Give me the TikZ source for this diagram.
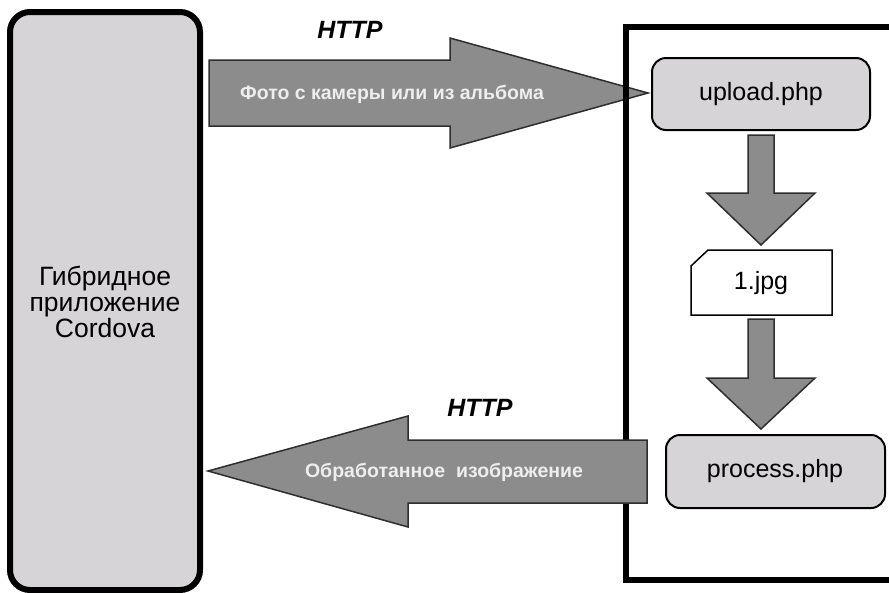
\documentclass[tikz,border=0pt]{standalone}
\usepackage{fontspec}
\setmainfont{Liberation Sans}
\usetikzlibrary{positioning}
\definecolor{boxgray}{HTML}{D6D4D6}
\definecolor{arrgray}{HTML}{8C8C8C}
\definecolor{arredge}{HTML}{2E2E2E}
\definecolor{arrtext}{HTML}{EEEEEE}
\tikzset{
  appbox/.style={draw=black, line width=6pt, fill=boxgray, rounded corners=20pt},
  filebox/.style={draw=black, line width=2pt, fill=boxgray, rounded corners=14pt},
  bigarrow/.style={draw=arredge, line width=1.5pt, fill=arrgray, line join=miter},
  httplabel/.style={font=\fontsize{25}{25}\selectfont\bfseries\itshape},
  arrlabel/.style={text=arrtext, font=\fontsize{19.5}{21}\selectfont\bfseries},
  proclabel/.style={font=\fontsize{25}{27}\selectfont},
}
\begin{document}
\begin{tikzpicture}[x=1pt,y=-1pt]
\useasboundingbox (0,0) rectangle (889,592);
% left app
\draw[appbox] (10,12) rectangle (200,590);
\node[align=center, font=\fontsize{26.5}{26}\selectfont] (app) at (105,302) {Гибридное\\приложение\\Cordova};
% top arrow (under server frame)
\draw[bigarrow] (209,60) -- (450,60) -- (450,38) -- (648,93) -- (450,148) -- (450,126) -- (209,126) -- cycle;
\node[arrlabel] (upl) at (392,94) {Фото с камеры или из альбома};
\node[httplabel] (http1) at (350,30) {HTTP};
% server frame
\draw[draw=black, line width=6pt] (900,27) -- (626,27) -- (626,580) -- (900,580);
% upload.php
\draw[filebox] (652,58) rectangle (870,130);
\node[proclabel] (upload) at (761,94) {upload.php};
% down arrow 1
\draw[bigarrow] (748,135) -- (774,135) -- (774,193) -- (815,193) -- (761,245) -- (707,193) -- (748,193) -- cycle;
% 1.jpg document
\draw[draw=black, line width=1.5pt, fill=white] (708,250) -- (832,250) -- (832,315) -- (691,315) -- (691,266) -- cycle;
\node[proclabel] (jpg) at (761,283) {1.jpg};
% down arrow 2
\draw[bigarrow] (748,319) -- (774,319) -- (774,378) -- (815,378) -- (761,429) -- (707,378) -- (748,378) -- cycle;
% process.php
\draw[filebox] (666,435) rectangle (885,508);
\node[proclabel] (process) at (775,471) {process.php};
% bottom arrow (over server frame)
\draw[bigarrow] (647,440) -- (408,440) -- (408,416) -- (208,471) -- (408,527) -- (408,503) -- (647,503) -- cycle;
\node[arrlabel] (res) at (444,472) {Обработанное\ \ изображение};
\node[httplabel] (http2) at (480,408) {HTTP};
\end{tikzpicture}
\end{document}
